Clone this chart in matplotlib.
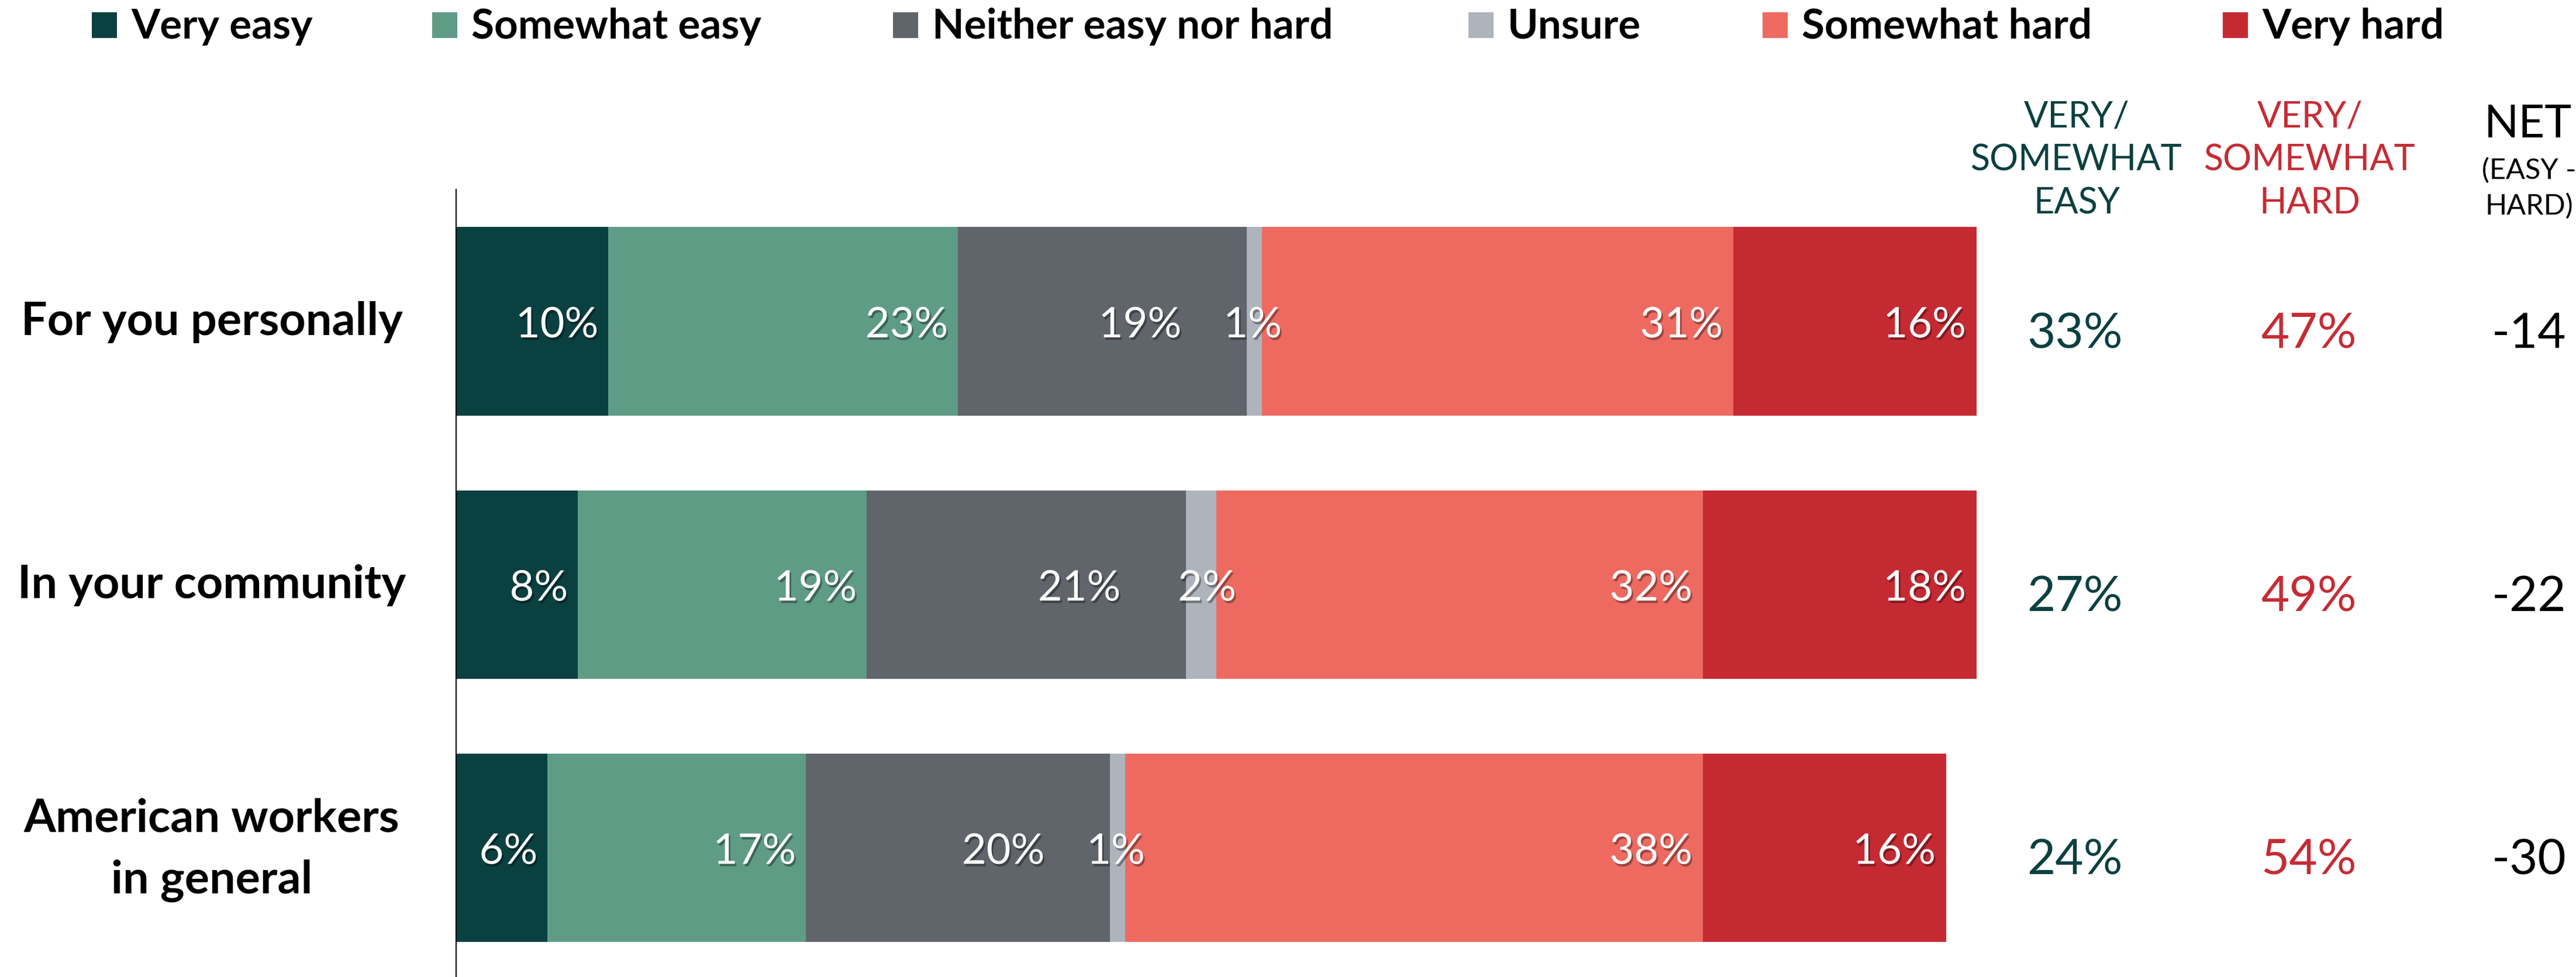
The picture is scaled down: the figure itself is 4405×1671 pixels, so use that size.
import matplotlib
matplotlib.use("Agg")
import matplotlib.pyplot as plt
import matplotlib.transforms as mtransforms
import matplotlib.patheffects as pe
from matplotlib.patches import Rectangle

plt.rcParams['font.family'] = ['Lato', 'DejaVu Sans']

# ---------------- data ----------------
categories = ["For you personally", "In your community", "American workers\nin general"]
series_names = ["Very easy", "Somewhat easy", "Neither easy nor hard", "Unsure", "Somewhat hard", "Very hard"]
very_easy = [10, 8, 6]
somewhat_easy = [23, 19, 17]
neither = [19, 21, 20]
unsure = [1, 2, 1]
somewhat_hard = [31, 32, 38]
very_hard = [16, 18, 16]
easy_total = [33, 27, 24]
hard_total = [47, 49, 54]
net_values = [-14, -22, -30]
col_headers = ["VERY/\nSOMEWHAT\nEASY", "VERY/\nSOMEWHAT\nHARD", "NET"]
net_sub = "(EASY -\nHARD)"

# ---------------- style ----------------
colors = ["#0B4040", "#5F9C86", "#60646B", "#AEB4BC", "#EE6A61", "#C52A33"]
label_pad = [0.65, 0.65, 4.3, -1.3, 0.7, 0.7]  # right-edge offset of value label from segment end
easy_col = "#0B4040"
hard_col = "#C62B34"

W, H = 4405, 1671
fig = plt.figure(figsize=(W / 100, H / 100), dpi=100)

def fx(px):
    return px / W

def fy(py):
    return 1 - py / H

ax = fig.add_axes([fx(780), 0, 2600 / W, (H - 324) / H])
ax.set_xlim(0, 100)
ax.set_ylim(2.491, -0.501)
for s in ["top", "right", "bottom"]:
    ax.spines[s].set_visible(False)
ax.spines["left"].set_linewidth(1.6)
ax.spines["left"].set_color("black")
ax.set_xticks([])
ax.set_yticks([])

series = [very_easy, somewhat_easy, neither, unsure, somewhat_hard, very_hard]
ypos = list(range(len(categories)))
left = [0] * len(categories)
shadow = [pe.withSimplePatchShadow(offset=(2, -3), shadow_rgbFace="black", alpha=0.35)]
for k, vals in enumerate(series):
    ax.barh(ypos, vals, left=left, height=0.716, color=colors[k], edgecolor="none")
    for i, v in enumerate(vals):
        end = left[i] + v
        ax.text(end - label_pad[k], i + 0.061, f"{v}%", ha="right", va="baseline",
                color="white", fontsize=52, path_effects=shadow)
    left = [l + v for l, v in zip(left, vals)]

tr = mtransforms.blended_transform_factory(fig.transFigure, ax.transData)
for i, cat in enumerate(categories):
    nlines = cat.count("\n")
    yoff = 0.052 if nlines == 0 else 0.173
    ax.text(fx(362), i + yoff, cat, transform=tr, ha="center", va="baseline",
            multialignment="center", fontsize=57, fontweight="bold", linespacing=1.58)

for i in ypos:
    ax.text(fx(3548), i + 0.101, f"{easy_total[i]}%", transform=tr, ha="center", va="baseline",
            fontsize=60, color=easy_col)
    ax.text(fx(3948), i + 0.101, f"{hard_total[i]}%", transform=tr, ha="center", va="baseline",
            fontsize=60, color=hard_col)
    ax.text(fx(4325), i + 0.101, f"{net_values[i]}", transform=tr, ha="center", va="baseline",
            fontsize=60, color="black")

# column headers (baseline of last line)
fig.text(fx(3551), fy(365), col_headers[0], ha="center", va="baseline", multialignment="center",
         fontsize=44, color=easy_col, linespacing=1.36)
fig.text(fx(3950), fy(365), col_headers[1], ha="center", va="baseline", multialignment="center",
         fontsize=44, color=hard_col, linespacing=1.36)
fig.text(fx(4323), fy(235), col_headers[2], ha="center", va="baseline", fontsize=56, color="black")
fig.text(fx(4325), fy(367), net_sub, ha="center", va="baseline", multialignment="center",
         fontsize=35, color="black", linespacing=1.45)

# legend
leg_x = [157, 739, 1527, 2511, 3014, 3801]
for k, name in enumerate(series_names):
    fig.patches.append(Rectangle((fx(leg_x[k]), fy(65)), 43 / W, 44 / H, transform=fig.transFigure,
                                 facecolor=colors[k], edgecolor="none"))
    fig.text(fx(leg_x[k] + 67), fy(66), name, ha="left", va="baseline", fontsize=51,
             fontweight="bold", color="black")

fig.savefig("out.png", dpi=100, facecolor="white")
